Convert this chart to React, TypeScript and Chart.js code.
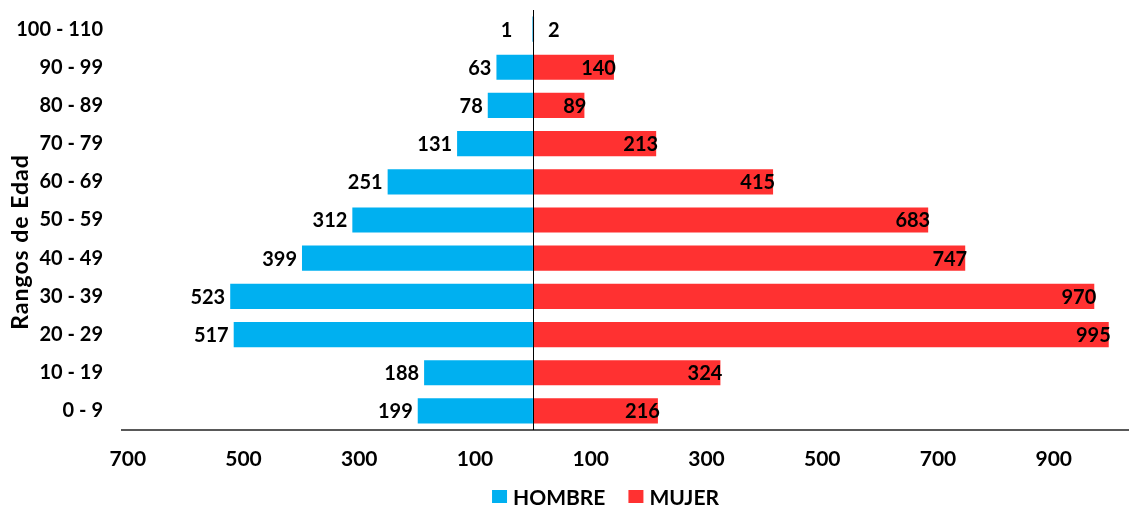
import React, { useEffect, useRef } from 'react';
import { Chart, registerables } from 'chart.js';

Chart.register(...registerables);

const AGE_GROUPS = ['0 - 9', '10 - 19', '20 - 29', '30 - 39', '40 - 49', '50 - 59', '60 - 69', '70 - 79', '80 - 89', '90 - 99', '100 - 110'];
const HOMBRE = [199, 188, 517, 523, 399, 312, 251, 131, 78, 63, 1];
const MUJER = [216, 324, 995, 970, 747, 683, 415, 213, 89, 140, 2];
const X_TICKS = [-700, -500, -300, -100, 100, 300, 500, 700, 900];
const X_MIN = -710;
const X_MAX = 1030;
const SERIES_NAMES = ['HOMBRE', 'MUJER'];
const Y_TITLE = 'Rangos de Edad';

const FONT = 'Lato, "Open Sans", sans-serif';
const BLUE = '#00B0F0';
const RED = '#FF3131';

const overlayPlugin = {
  id: 'overlay',
  afterDatasetsDraw(chart: any) {
    const ctx = chart.ctx;
    const xs = chart.scales.x;
    const area = chart.chartArea;
    const zero = xs.getPixelForValue(0);
    ctx.save();
    // zero axis line
    ctx.strokeStyle = '#000';
    ctx.lineWidth = 1;
    ctx.beginPath();
    ctx.moveTo(Math.round(zero) + 0.5, area.top);
    ctx.lineTo(Math.round(zero) + 0.5, area.bottom);
    ctx.stroke();
    // value labels
    ctx.font = `bold 20px ${FONT}`;
    ctx.fillStyle = '#000';
    ctx.textBaseline = 'middle';
    chart.data.datasets.forEach((ds: any, di: number) => {
      const meta = chart.getDatasetMeta(di);
      const vals = di === 0 ? HOMBRE : MUJER;
      meta.data.forEach((el: any, i: number) => {
        const text = String(vals[i]);
        const w = ctx.measureText(text).width;
        const len = Math.abs(el.x - zero);
        if (di === 0) {
          ctx.textAlign = 'right';
          ctx.fillText(text, el.x - (len < 10 ? 20 : 5), el.y + 1);
        } else if (len > w + 6) {
          ctx.textAlign = 'right';
          ctx.fillText(text, el.x + 2, el.y + 1);
        } else {
          ctx.textAlign = 'left';
          ctx.fillText(text, el.x + 14, el.y + 1);
        }
      });
    });
    ctx.restore();
  },
  afterDraw(chart: any) {
    const ctx = chart.ctx;
    const area = chart.chartArea;
    ctx.save();
    // y-axis title
    ctx.font = `bold 23px ${FONT}`;
    (ctx as any).letterSpacing = '1px';
    ctx.fillStyle = '#000';
    ctx.textAlign = 'center';
    ctx.textBaseline = 'middle';
    ctx.translate(21, 242);
    ctx.rotate(-Math.PI / 2);
    ctx.fillText(Y_TITLE, 0, 0);
    ctx.restore();

    // legend
    ctx.save();
    ctx.font = `bold 21px ${FONT}`;
    ctx.textBaseline = 'middle';
    ctx.textAlign = 'left';
    const colors = [BLUE, RED];
    const box = 15;
    const gapText = 6;
    const gapItem = 23;
    const widths = SERIES_NAMES.map((n) => ctx.measureText(n).width);
    const total = widths.reduce((a, w) => a + box + gapText + w, 0) + gapItem;
    const cx = (area.left + area.right) / 2 - 20;
    let x = cx - total / 2;
    const y = 497;
    SERIES_NAMES.forEach((n, i) => {
      ctx.fillStyle = colors[i];
      ctx.fillRect(x, y - 7, box, 13);
      x += box + gapText;
      ctx.fillStyle = '#000';
      ctx.fillText(n, x, y + 1);
      x += widths[i] + gapItem;
    });
    ctx.restore();
  },
};

export default function App() {
  const ref = useRef<HTMLCanvasElement | null>(null);

  useEffect(() => {
    document.body.style.margin = '0';
    if (!ref.current) return;
    const chart = new Chart(ref.current, {
      type: 'bar',
      data: {
        labels: AGE_GROUPS,
        datasets: [
          {
            label: SERIES_NAMES[0],
            data: HOMBRE.map((v) => -v),
            backgroundColor: BLUE,
            barPercentage: 0.66,
            categoryPercentage: 1,
          },
          {
            label: SERIES_NAMES[1],
            data: MUJER,
            backgroundColor: RED,
            barPercentage: 0.66,
            categoryPercentage: 1,
          },
        ],
      },
      options: {
        indexAxis: 'y',
        animation: false,
        responsive: true,
        maintainAspectRatio: false,
        layout: { padding: { top: 10, right: 0, bottom: 34, left: 0 } },
        plugins: {
          legend: { display: false },
          tooltip: { enabled: false },
          title: { display: false },
        },
        scales: {
          x: {
            stacked: true,
            min: X_MIN,
            max: X_MAX,
            afterBuildTicks: (scale: any) => {
              scale.ticks = X_TICKS.map((v) => ({ value: v }));
            },
            afterFit: (scale: any) => {
              scale.height = 42;
              scale.paddingLeft = 0;
              scale.paddingRight = 0;
            },
            grid: { display: false, drawTicks: false },
            border: { display: true, color: '#595959', width: 2 },
            ticks: {
              padding: 17,
              color: '#000',
              font: { family: FONT, size: 21, weight: 'bold' },
              callback: (v: any) => String(Math.abs(Number(v))),
              maxRotation: 0,
              autoSkip: false,
            },
          },
          y: {
            stacked: true,
            reverse: true,
            afterFit: (scale: any) => {
              scale.width = 122;
              scale.paddingTop = 0;
              scale.paddingBottom = 0;
            },
            grid: { display: false, drawTicks: false },
            border: { display: false },
            ticks: {
              padding: 19,
              color: '#000',
              font: { family: FONT, size: 20, weight: 'bold' },
              autoSkip: false,
            },
          },
        },
      },
      plugins: [overlayPlugin],
    });
    return () => chart.destroy();
  }, []);

  return (
    <div style={{ position: 'relative', width: '1129px', height: '506px' }}>
      <canvas ref={ref} />
    </div>
  );
}
